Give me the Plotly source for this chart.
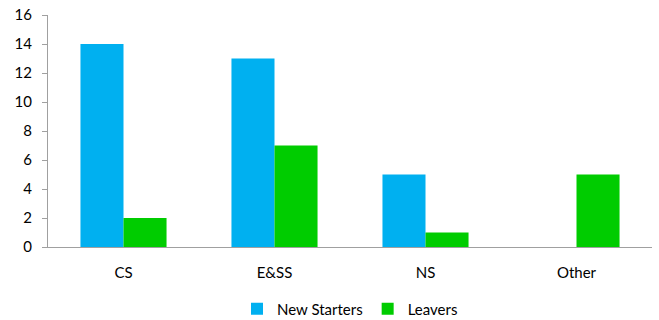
import plotly.graph_objects as go

categories = ["CS", "E&SS", "NS", "Other"]
new_starters = [14, 13, 5, 0]
leavers = [2, 7, 1, 5]
y_ticks = [0, 2, 4, 6, 8, 10, 12, 14, 16]

font = "Lato, Carlito, 'Liberation Sans', sans-serif"

fig = go.Figure()
fig.add_trace(go.Bar(name="New Starters", x=categories, y=new_starters, marker_color="#00B0F0", marker_line_width=0))
fig.add_trace(go.Bar(name="Leavers", x=categories, y=leavers, marker_color="#00CC00", marker_line_width=0))

fig.update_layout(
    width=659, height=320,
    margin=dict(l=48, r=7, t=15, b=73, autoexpand=False),
    paper_bgcolor="white", plot_bgcolor="white",
    barmode="group", bargap=0.43, bargroupgap=0,
    font=dict(family=font, size=15, color="black"),
    showlegend=True,
    legend=dict(orientation="h", x=0.5, xanchor="center", y=-0.267, yanchor="middle",
                font=dict(size=15), traceorder="normal"),
)
fig.update_yaxes(range=[0, 16], tickvals=y_ticks, showgrid=False, zeroline=False,
                 showline=True, linecolor="#a0a0a0", linewidth=1,
                 ticks="outside", ticklen=5, tickcolor="#a0a0a0", ticklabelstandoff=7)
fig.update_xaxes(showgrid=False, showline=True, linecolor="#a0a0a0", linewidth=1,
                 ticks="", tickfont=dict(size=15), ticklabelstandoff=12)

fig.write_html("out.html")
